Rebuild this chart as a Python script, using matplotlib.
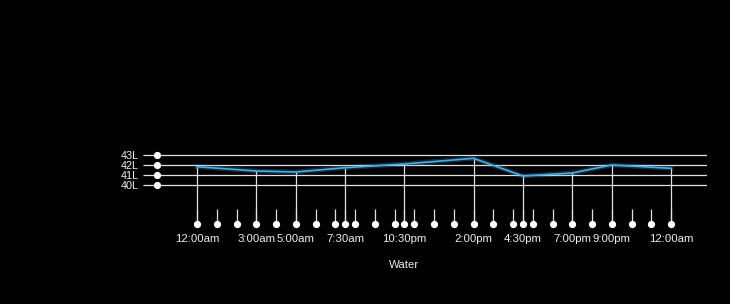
import matplotlib
matplotlib.use("Agg")
import matplotlib.pyplot as plt
from matplotlib.ticker import FixedLocator, FixedFormatter

plt.rcParams["font.family"] = ["Liberation Sans", "DejaVu Sans"]

# Data
times = [0, 3, 5, 7.5, 10.5, 14, 16.5, 19, 21, 24]  # hours from midnight
time_labels = ["12:00am", "3:00am", "5:00am", "7:30am", "10:30pm",
               "2:00pm", "4:30pm", "7:00pm", "9:00pm", "12:00am"]
water = [41.83, 41.4, 41.3, 41.73, 42.1, 42.67, 40.9, 41.2, 42.0, 41.67]
hour_ticks = list(range(0, 25))
y_ticks = [40, 41, 42, 43]
y_labels = ["40L", "41L", "42L", "43L"]

W, H = 730, 304
fig = plt.figure(figsize=(W / 100, H / 100), dpi=100, facecolor="black")

# axes: left 157px, right 707px, top 150px, bottom 224px
left, right, top, bottom = 157, 707, 150, 224
ax = fig.add_axes([left / W, 1 - bottom / H, (right - left) / W, (bottom - top) / H])
ax.set_facecolor("black")

px_per_hour = 19.75
x0 = (left - 197) / px_per_hour
x1 = (right - 197) / px_per_hour
ax.set_xlim(x0, x1)
y_bot = 40 - (bottom - 185) / 10
y_top = 43 + (155 - top) / 10
ax.set_ylim(y_bot, y_top)

for s in ax.spines.values():
    s.set_visible(False)

# horizontal gridlines
for yv in y_ticks:
    ax.axhline(yv, color="#e0e0e0", lw=0.9, zorder=1)

# y ticks with dots
ax.set_yticks(y_ticks)
ax.set_yticklabels(y_labels)
ax.tick_params(axis="y", length=10, width=0.9, color="#e0e0e0", direction="out",
               pad=3, labelcolor="#eeeeee", labelsize=7.8)
ax.plot([x0] * len(y_ticks), y_ticks, "o", color="white", ms=4.2, clip_on=False, zorder=5)

# x ticks: minor hourly ticks + major labelled data ticks
ax.xaxis.set_major_locator(FixedLocator(times))
ax.xaxis.set_major_formatter(FixedFormatter(time_labels))
ax.xaxis.set_minor_locator(FixedLocator(hour_ticks))
ax.tick_params(axis="x", which="both", direction="in", length=11, width=0.9,
               color="#e0e0e0", labelcolor="#eeeeee", labelsize=8.2, pad=7)

all_x = sorted(set(hour_ticks) | set(times))
ax.plot(all_x, [y_bot] * len(all_x), "o", color="white", ms=4.2, clip_on=False, zorder=5)

# vertical drop lines from data points
ax.vlines(times, y_bot, water, color="#e0e0e0", lw=0.9, zorder=2)

# water line with glow
ax.plot(times, water, color="#3fa9e0", lw=3.5, alpha=0.25, zorder=3)
ax.plot(times, water, color="#48aee6", lw=1.2, zorder=4)

fig.text(404 / W, 1 - 265 / H, "Water", color="#eeeeee", fontsize=8.2,
         ha="center", va="center")

fig.savefig("out.png", dpi=100, facecolor="black")
